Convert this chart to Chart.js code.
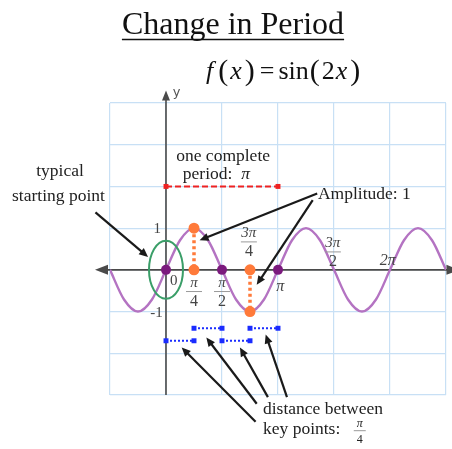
<!DOCTYPE html>
<html>
<head>
<meta charset="utf-8">
<script src="https://cdn.jsdelivr.net/npm/chart.js@4.4.1/dist/chart.umd.min.js"></script>
<style>
  html, body { margin: 0; padding: 0; background: #fff; }
  #wrap { width: 452px; height: 449px; }
</style>
</head>
<body>
<div id="wrap"><canvas id="chart" width="452" height="449"></canvas></div>
<script>
// x values are in multiples of pi, y values in plain units

// f(x) = sin(2x), read at every pi/8
const curveX = [-0.5, -0.375, -0.25, -0.125, 0, 0.125, 0.25, 0.375, 0.5, 0.625, 0.75, 0.875,
                1, 1.125, 1.25, 1.375, 1.5, 1.625, 1.75, 1.875, 2, 2.125, 2.25, 2.375, 2.5];
const curveY = [0, -0.71, -1, -0.71, 0, 0.71, 1, 0.71, 0, -0.71, -1, -0.71,
                0, 0.71, 1, 0.71, 0, -0.71, -1, -0.71, 0, 0.71, 1, 0.71, 0];

// zeros (purple dots)
const zeroX = [0, 0.5, 1];
const zeroY = [0, 0, 0];

// max / min markers (orange)
const extremaX = [0.25, 0.25, 0.75, 0.75];
const extremaY = [1, 0, 0, -1];

// one complete period (red dashed)
const periodX = [0, 1];
const periodY = [2, 2];

// pi/4 spacing bars (blue dotted), [x start, x end, y]
const spacingBars = [
  [0.25, 0.5, -1.4],
  [0.75, 1, -1.4],
  [0, 0.25, -1.7],
  [0.5, 0.75, -1.7]
];

// axis ranges
const xMin = -0.5, xMax = 2.5, xStep = 0.5;
const yMin = -3, yMax = 4, yStep = 1;

// pointer arrows [x1, y1, x2, y2] (tail -> head)
const pointerArrows = [
  [-0.63, 1.38, -0.16, 0.31],
  [1.35, 1.83, 0.30, 0.71],
  [1.31, 1.67, 0.81, -0.36],
  [0.80, -3.64, 0.14, -1.86],
  [0.81, -3.21, 0.36, -1.62],
  [0.91, -3.05, 0.66, -1.86],
  [1.08, -3.05, 0.89, -1.55]
];

// plain labels [text, x, y, align]
const noteLabels = [
  ['typical', -0.946, 2.26, 'center'],
  ['starting point', -0.96, 1.64, 'center'],
  ['one complete', 0.51, 2.62, 'center'],
  ['Amplitude: 1', 1.357, 1.69, 'left'],
  ['distance between', 0.866, -3.45, 'left'],
  ['key points:', 0.866, -3.93, 'left']
];

// axis tick labels [text, x, y, align]
const tickLabels = [
  ['0', 0.035, -0.36, 'left'],
  ['1', -0.045, 0.88, 'right'],
  ['-1', -0.03, -1.12, 'right']
];

// fraction tick labels [numerator, denominator, x, numerator baseline y]
const fracLabels = [
  ['\u03c0', '4', 0.25, -0.40],
  ['\u03c0', '2', 0.5, -0.40],
  ['3\u03c0', '4', 0.74, 0.79],
  ['3\u03c0', '2', 1.49, 0.55]
];

// single pi labels [text, x, y]
const piLabels = [
  ['\u03c0', 1.02, -0.5],
  ['2\u03c0', 1.98, 0.12]
];

const SERIF = '"Liberation Serif", "Times New Roman", serif';

function segmentsData(bars) {
  const pts = [];
  bars.forEach(b => {
    pts.push({ x: b[0], y: b[2] }, { x: b[1], y: b[2] }, { x: NaN, y: null });
  });
  return pts;
}

function pairs(xs, ys) {
  return xs.map((x, i) => ({ x: x, y: ys[i] }));
}

function arrowHead(ctx, x1, y1, x2, y2, len, half) {
  const a = Math.atan2(y2 - y1, x2 - x1);
  ctx.beginPath();
  ctx.moveTo(x2, y2);
  ctx.lineTo(x2 - len * Math.cos(a) + half * Math.sin(a), y2 - len * Math.sin(a) - half * Math.cos(a));
  ctx.lineTo(x2 - len * Math.cos(a) - half * Math.sin(a), y2 - len * Math.sin(a) + half * Math.cos(a));
  ctx.closePath();
  ctx.fill();
}

// Draws title, formula, axes and all the notes
const decorPlugin = {
  id: 'decor',
  beforeDatasetsDraw(chart) {
    const ctx = chart.ctx;
    const xs = chart.scales.x, ys = chart.scales.y;
    const px = v => xs.getPixelForValue(v);
    const py = v => ys.getPixelForValue(v);

    // axes
    ctx.save();
    ctx.strokeStyle = '#4a4a4a';
    ctx.fillStyle = '#4a4a4a';
    ctx.lineWidth = 1.6;
    ctx.beginPath();
    ctx.moveTo(px(-0.6), py(0));
    ctx.lineTo(px(2.56), py(0));
    ctx.moveTo(px(0), py(yMin));
    ctx.lineTo(px(0), py(4.2));
    ctx.stroke();
    arrowHead(ctx, px(0), py(0), px(-0.634), py(0), 13, 5);
    arrowHead(ctx, px(0), py(0), px(2.62), py(0), 13, 5);
    arrowHead(ctx, px(0), py(0), px(0), py(4.3), 10, 4);
    ctx.font = '13px "DejaVu Sans", sans-serif';
    ctx.fillStyle = '#555';
    ctx.textAlign = 'left';
    ctx.fillText('y', px(0.06), py(4.17));
    ctx.restore();
  },
  afterDatasetsDraw(chart) {
    const ctx = chart.ctx;
    const xs = chart.scales.x, ys = chart.scales.y;
    const px = v => xs.getPixelForValue(v);
    const py = v => ys.getPixelForValue(v);
    ctx.save();

    // title
    ctx.fillStyle = '#111';
    ctx.font = '32px ' + SERIF;
    ctx.textAlign = 'center';
    ctx.textBaseline = 'alphabetic';
    const title = 'Change in Period';
    const tw = ctx.measureText(title).width;
    ctx.fillText(title, 233, 34);
    ctx.strokeStyle = '#111';
    ctx.lineWidth = 1.5;
    ctx.beginPath();
    ctx.moveTo(233 - tw / 2, 39.5);
    ctx.lineTo(233 + tw / 2, 39.5);
    ctx.stroke();

    // formula f(x) = sin(2x)
    const parts = [
      ['f', 'italic ', 26, 5], ['(', '', 30, 2], ['x', 'italic ', 26, 3], [')', '', 30, 5],
      ['=', '', 26, 4], ['sin', '', 26, 1], ['(', '', 30, 2], ['2', '', 26, 1], ['x', 'italic ', 26, 3], [')', '', 30, 0]
    ];
    ctx.textAlign = 'left';
    let fx = 206;
    parts.forEach(p => {
      ctx.font = p[1] + p[2] + 'px ' + SERIF;
      ctx.fillText(p[0], fx, p[2] > 26 ? 80 : 79);
      fx += ctx.measureText(p[0]).width + p[3];
    });

    // green ellipse round the start point
    ctx.strokeStyle = '#3a9e68';
    ctx.lineWidth = 2;
    ctx.beginPath();
    ctx.ellipse(px(0), py(0), 17, 29, 0, 0, Math.PI * 2);
    ctx.stroke();

    // tick labels
    ctx.fillStyle = '#444';
    ctx.font = '15px ' + SERIF;
    tickLabels.forEach(t => {
      ctx.textAlign = t[3];
      ctx.fillText(t[0], px(t[1]), py(t[2]));
    });
    ctx.font = 'italic 16px ' + SERIF;
    ctx.textAlign = 'center';
    piLabels.forEach(t => ctx.fillText(t[0], px(t[1]), py(t[2])));
    fracLabels.forEach(f => {
      const cx = px(f[2]), by = py(f[3]);
      ctx.fillStyle = '#444';
      ctx.font = 'italic 15px ' + SERIF;
      ctx.fillText(f[0], cx, by);
      ctx.font = '16px ' + SERIF;
      ctx.fillText(f[1], cx, by + 19);
      ctx.strokeStyle = '#999';
      ctx.lineWidth = 1;
      ctx.beginPath();
      ctx.moveTo(cx - 8, by + 5);
      ctx.lineTo(cx + 8, by + 5);
      ctx.stroke();
    });

    // notes
    ctx.fillStyle = '#222';
    ctx.font = '17.5px ' + SERIF;
    noteLabels.forEach(t => {
      ctx.textAlign = t[3];
      ctx.fillText(t[0], px(t[1]), py(t[2]));
    });
    ctx.textAlign = 'left';
    const per = 'period:  ';
    const pw = ctx.measureText(per).width;
    ctx.font = 'italic 17.5px ' + SERIF;
    const piW = ctx.measureText('\u03c0').width;
    const pStart = px(0.45) - (pw + piW) / 2;
    ctx.font = '17.5px ' + SERIF;
    ctx.fillText(per, pStart, py(2.19));
    ctx.font = 'italic 17.5px ' + SERIF;
    ctx.fillText('\u03c0', pStart + pw, py(2.19));

    // pi/4 after "key points:"
    const kx = px(1.73), ky = py(-3.76);
    ctx.textAlign = 'center';
    ctx.font = 'italic 12px ' + SERIF;
    ctx.fillText('\u03c0', kx, ky);
    ctx.font = '12px ' + SERIF;
    ctx.fillText('4', kx, ky + 16);
    ctx.strokeStyle = '#999';
    ctx.lineWidth = 1;
    ctx.beginPath();
    ctx.moveTo(kx - 6, ky + 4);
    ctx.lineTo(kx + 6, ky + 4);
    ctx.stroke();

    // pointer arrows
    ctx.strokeStyle = '#1a1a1a';
    ctx.fillStyle = '#1a1a1a';
    ctx.lineWidth = 2.2;
    pointerArrows.forEach(a => {
      const x1 = px(a[0]), y1 = py(a[1]), x2 = px(a[2]), y2 = py(a[3]);
      const ang = Math.atan2(y2 - y1, x2 - x1);
      ctx.beginPath();
      ctx.moveTo(x1, y1);
      ctx.lineTo(x2 - 6 * Math.cos(ang), y2 - 6 * Math.sin(ang));
      ctx.stroke();
      arrowHead(ctx, x1, y1, x2, y2, 9, 4);
    });
    ctx.restore();
  }
};

new Chart(document.getElementById('chart'), {
  type: 'line',
  data: {
    datasets: [
      {
        data: pairs(zeroX, zeroY),
        showLine: false,
        pointRadius: 5,
        pointBackgroundColor: '#7b1a7e',
        pointBorderWidth: 0,
        order: 1
      },
      {
        data: pairs(extremaX, extremaY),
        showLine: false,
        pointRadius: 5.5,
        pointBackgroundColor: '#ff7a3a',
        pointBorderWidth: 0,
        order: 2
      },
      {
        data: [{ x: extremaX[0], y: extremaY[0] }, { x: extremaX[1], y: extremaY[1] }, { x: NaN, y: null },
               { x: extremaX[2], y: extremaY[2] }, { x: extremaX[3], y: extremaY[3] }],
        borderColor: '#ff7a3a',
        borderWidth: 3.5,
        borderDash: [3, 3],
        pointRadius: 0,
        spanGaps: false,
        order: 3
      },
      {
        data: pairs(periodX, periodY),
        borderColor: '#ee2222',
        borderWidth: 2,
        borderDash: [6, 3],
        pointStyle: 'rect',
        pointRadius: 3.5,
        pointBackgroundColor: '#ee2222',
        pointBorderWidth: 0,
        order: 3
      },
      {
        data: segmentsData(spacingBars),
        borderColor: '#1a2cff',
        borderWidth: 2,
        borderDash: [2, 2],
        pointStyle: 'rect',
        pointRadius: ctx => (ctx.raw && ctx.raw.y !== null ? 3.5 : 0),
        pointBackgroundColor: '#1a2cff',
        pointBorderWidth: 0,
        spanGaps: false,
        order: 3
      },
      {
        data: pairs(curveX, curveY),
        borderColor: '#b473c2',
        borderWidth: 2.4,
        pointRadius: 0,
        cubicInterpolationMode: 'monotone',
        order: 5
      }
    ]
  },
  options: {
    responsive: false,
    animation: false,
    layout: { padding: { left: 110, right: 6, top: 103, bottom: 54 } },
    plugins: { legend: { display: false }, tooltip: { enabled: false }, title: { display: false } },
    scales: {
      x: {
        type: 'linear', min: xMin, max: xMax,
        ticks: { display: false, stepSize: xStep },
        grid: { color: '#c8e0f5', lineWidth: 1.2, drawTicks: false },
        border: { display: false }
      },
      y: {
        type: 'linear', min: yMin, max: yMax,
        ticks: { display: false, stepSize: yStep },
        grid: { color: '#c8e0f5', lineWidth: 1.2, drawTicks: false },
        border: { display: false }
      }
    }
  },
  plugins: [decorPlugin]
});
</script>
</body>
</html>
